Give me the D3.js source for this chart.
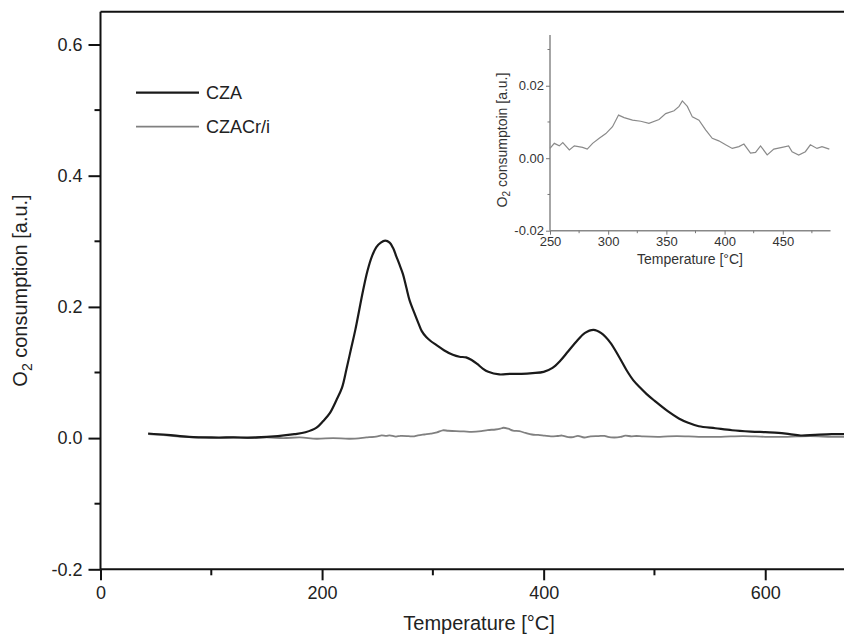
<!DOCTYPE html>
<html>
<head>
<meta charset="utf-8">
<script src="https://cdn.jsdelivr.net/npm/d3@7"></script>
<style>
  body { margin: 0; background: #fff; }
  svg { display: block; font-family: "Liberation Sans", Arial, sans-serif; }
</style>
</head>
<body>
<svg width="844" height="636"></svg>
<script>
// CZA trace, [temperature, O2 consumption]
var czaTemp = [43,60,80,100,120,140,160,175,185,195,201,207,213,218,222,226,230,237,241,245,249,253,257,261,264,267,270,273,276,279,283,287,290,294,298,303,310,318,324,330,335,340,345,350,360,370,380,390,400,408,415,422,430,437,445,452,460,468,475,481,487,493,500,512,522,531,540,555,570,587,600,612,622,632,645,660,672];
var czaVal = [0.007,0.005,0.002,0.001,0.001,0.001,0.003,0.006,0.009,0.016,0.026,0.038,0.058,0.077,0.105,0.135,0.165,0.225,0.255,0.277,0.291,0.298,0.301,0.298,0.290,0.277,0.264,0.250,0.230,0.210,0.192,0.175,0.163,0.154,0.148,0.142,0.134,0.127,0.124,0.123,0.119,0.113,0.106,0.101,0.097,0.098,0.098,0.099,0.101,0.107,0.118,0.132,0.148,0.160,0.165,0.160,0.146,0.124,0.103,0.088,0.077,0.067,0.057,0.041,0.030,0.023,0.018,0.015,0.012,0.010,0.009,0.008,0.006,0.004,0.005,0.006,0.006];

// CZACr/i trace (same data is shown zoomed in the inset)
var crTemp = [43,60,75,90,105,120,135,150,165,180,195,210,225,240,
  250,253.7,258,261,266.6,270.9,278,282,286.6,292.3,298,303.7,308.9,313.7,320.9,328,335,343.7,349.4,356.6,360.9,363.7,368,372.3,378,383.7,389.4,395,400.9,406.6,412.3,416.6,422.3,426.6,430.9,436.6,442.3,449.4,455,458,463.7,469.4,473.7,479.4,483.7,490,
  505,520,540,560,580,600,620,640,660,672];
var crVal = [0.006,0.004,0.002,0.001,0.000,0.001,0.000,0.001,0.000,0.001,-0.001,0.000,-0.001,0.001,
  0.0027,0.0041,0.0034,0.0043,0.0023,0.0034,0.0030,0.0025,0.0041,0.0055,0.0068,0.0087,0.0119,0.0112,0.0105,0.0102,0.0096,0.0107,0.0123,0.0131,0.0143,0.0158,0.0143,0.0114,0.0105,0.0078,0.0055,0.0048,0.0037,0.0027,0.0032,0.0039,0.0014,0.0016,0.0034,0.0009,0.0025,0.0030,0.0034,0.0018,0.0009,0.0018,0.0037,0.0027,0.0032,0.0025,
  0.002,0.003,0.002,0.002,0.003,0.002,0.002,0.003,0.002,0.002];

var seriesNames = ["CZA", "CZACr/i"];
var seriesColors = ["#1a1a1a", "#808080"];

var xTicks = [0, 200, 400, 600];
var xMinor = [100, 300, 500];
var yTicks = [-0.2, 0.0, 0.2, 0.4, 0.6];
var yMinor = [-0.1, 0.1, 0.3, 0.5];

var insetXTicks = [250, 300, 350, 400, 450];
var insetXMinor = [275, 325, 375, 425, 475];
var insetYTicks = [-0.02, 0.00, 0.02];
var insetYMinor = [-0.01, 0.01, 0.03];

var cza = czaTemp.map(function(t, i) { return {t: t, v: czaVal[i]}; });
var cr = crTemp.map(function(t, i) { return {t: t, v: crVal[i]}; });

// plain hyphen for negative labels, like the original
function fmt(spec) {
  var f = d3.format(spec);
  return function(d) { return f(d).replace("\u2212", "-"); };
}

var svg = d3.select("svg");

// ---- main plot ----
var x = d3.scaleLinear().domain([0, 672]).range([100.5, 845]);
var y = d3.scaleLinear().domain([-0.2, 0.65]).range([569.3, 11.7]);

var line = d3.line()
    .x(function(d) { return x(d.t); })
    .y(function(d) { return y(d.v); })
    .curve(d3.curveCatmullRom.alpha(0.5));

svg.append("path").datum(cr)
    .attr("d", line)
    .attr("fill", "none")
    .attr("stroke", seriesColors[1])
    .attr("stroke-width", 1.8);

svg.append("path").datum(cza)
    .attr("d", line)
    .attr("fill", "none")
    .attr("stroke", seriesColors[0])
    .attr("stroke-width", 2.2);

var xAxis = svg.append("g")
    .attr("transform", "translate(0," + y(-0.2) + ")")
    .call(d3.axisBottom(x).tickValues(xTicks).tickSize(11).tickPadding(6).tickFormat(fmt("d")));
xAxis.append("g").selectAll("line").data(xMinor).enter().append("line")
    .attr("x1", function(d) { return x(d); }).attr("x2", function(d) { return x(d); })
    .attr("y1", 0).attr("y2", 6)
    .attr("stroke", "#111").attr("stroke-width", 2);

var yAxis = svg.append("g")
    .attr("transform", "translate(" + x(0) + ",0)")
    .call(d3.axisLeft(y).tickValues(yTicks).tickSize(12).tickPadding(6).tickFormat(fmt(".1f")));
yAxis.append("g").selectAll("line").data(yMinor).enter().append("line")
    .attr("y1", function(d) { return y(d); }).attr("y2", function(d) { return y(d); })
    .attr("x1", 0).attr("x2", -6)
    .attr("stroke", "#111").attr("stroke-width", 2);

[xAxis, yAxis].forEach(function(a) {
  a.select(".domain").attr("stroke", "#111").attr("stroke-width", 2);
  a.selectAll(".tick line").attr("stroke", "#111").attr("stroke-width", 2);
  a.selectAll("text").attr("font-size", 18).attr("fill", "#222").attr("font-family", null);
});
xAxis.select(".domain").attr("d", "M" + x(0) + ",0H845");
yAxis.select(".domain").attr("d", "M0," + y(-0.2) + "V" + y(0.65));

// top frame
svg.append("line")
    .attr("x1", x(0)).attr("x2", 845)
    .attr("y1", y(0.65)).attr("y2", y(0.65))
    .attr("stroke", "#111").attr("stroke-width", 2);

svg.append("text")
    .attr("x", 479).attr("y", 630)
    .attr("text-anchor", "middle")
    .attr("font-size", 20).attr("fill", "#222")
    .text("Temperature [°C]");

var yt = svg.append("text")
    .attr("transform", "translate(27," + ((y(-0.2) + y(0.65)) / 2) + ") rotate(-90)")
    .attr("text-anchor", "middle")
    .attr("font-size", 20).attr("fill", "#222");
yt.append("tspan").text("O");
yt.append("tspan").attr("font-size", 14).attr("dy", 5).text("2");
yt.append("tspan").attr("dy", -5).text(" consumption [a.u.]");

// legend
var legend = svg.append("g").selectAll("g").data(seriesNames).enter().append("g")
    .attr("transform", function(d, i) { return "translate(136," + (92.7 + i * 34) + ")"; });
legend.append("line")
    .attr("x1", 0).attr("x2", 63)
    .attr("stroke", function(d, i) { return seriesColors[i]; })
    .attr("stroke-width", function(d, i) { return i == 0 ? 2.2 : 1.8; });
legend.append("text")
    .attr("x", 70).attr("dy", "0.35em")
    .attr("font-size", 18).attr("fill", "#222")
    .text(function(d) { return d; });

// ---- inset ----
var ix = d3.scaleLinear().domain([250, 491]).range([550, 830.5]);
var iy = d3.scaleLinear().domain([-0.02, 0.034]).range([230.7, 35]);

var insetLine = d3.line()
    .x(function(d) { return ix(d.t); })
    .y(function(d) { return iy(d.v); });

svg.append("path").datum(cr.filter(function(d) { return d.t >= 250 && d.t <= 491; }))
    .attr("d", insetLine)
    .attr("fill", "none")
    .attr("stroke", "#8a8a8a")
    .attr("stroke-width", 1.2);

var ixAxis = svg.append("g")
    .attr("transform", "translate(0," + iy(-0.02) + ")")
    .call(d3.axisBottom(ix).tickValues(insetXTicks).tickSize(4).tickPadding(2).tickFormat(fmt("d")));
ixAxis.append("g").selectAll("line").data(insetXMinor).enter().append("line")
    .attr("x1", function(d) { return ix(d); }).attr("x2", function(d) { return ix(d); })
    .attr("y1", 0).attr("y2", 2.5)
    .attr("stroke", "#777");

var iyAxis = svg.append("g")
    .attr("transform", "translate(" + ix(250) + ",0)")
    .call(d3.axisLeft(iy).tickValues(insetYTicks).tickSize(4).tickPadding(2).tickFormat(fmt(".2f")));
iyAxis.append("g").selectAll("line").data(insetYMinor).enter().append("line")
    .attr("y1", function(d) { return iy(d); }).attr("y2", function(d) { return iy(d); })
    .attr("x1", 0).attr("x2", -2.5)
    .attr("stroke", "#777");

[ixAxis, iyAxis].forEach(function(a) {
  a.select(".domain").attr("stroke", "#888").attr("stroke-width", 1.5);
  a.selectAll(".tick line").attr("stroke", "#777");
  a.selectAll("text").attr("font-size", 13).attr("fill", "#333").attr("font-family", null);
});
ixAxis.select(".domain").attr("d", "M" + ix(250) + ",0H" + ix(491));
iyAxis.select(".domain").attr("d", "M0," + iy(-0.02) + "V" + iy(0.034));

svg.append("text")
    .attr("x", 690).attr("y", 264)
    .attr("text-anchor", "middle")
    .attr("font-size", 14).attr("fill", "#333")
    .text("Temperature [°C]");

var iyt = svg.append("text")
    .attr("transform", "translate(507,140) rotate(-90)")
    .attr("text-anchor", "middle")
    .attr("font-size", 14).attr("fill", "#333");
iyt.append("tspan").text("O");
iyt.append("tspan").attr("font-size", 10).attr("dy", 3).text("2");
iyt.append("tspan").attr("dy", -3).text(" consumptoin [a.u.]");
</script>
</body>
</html>
